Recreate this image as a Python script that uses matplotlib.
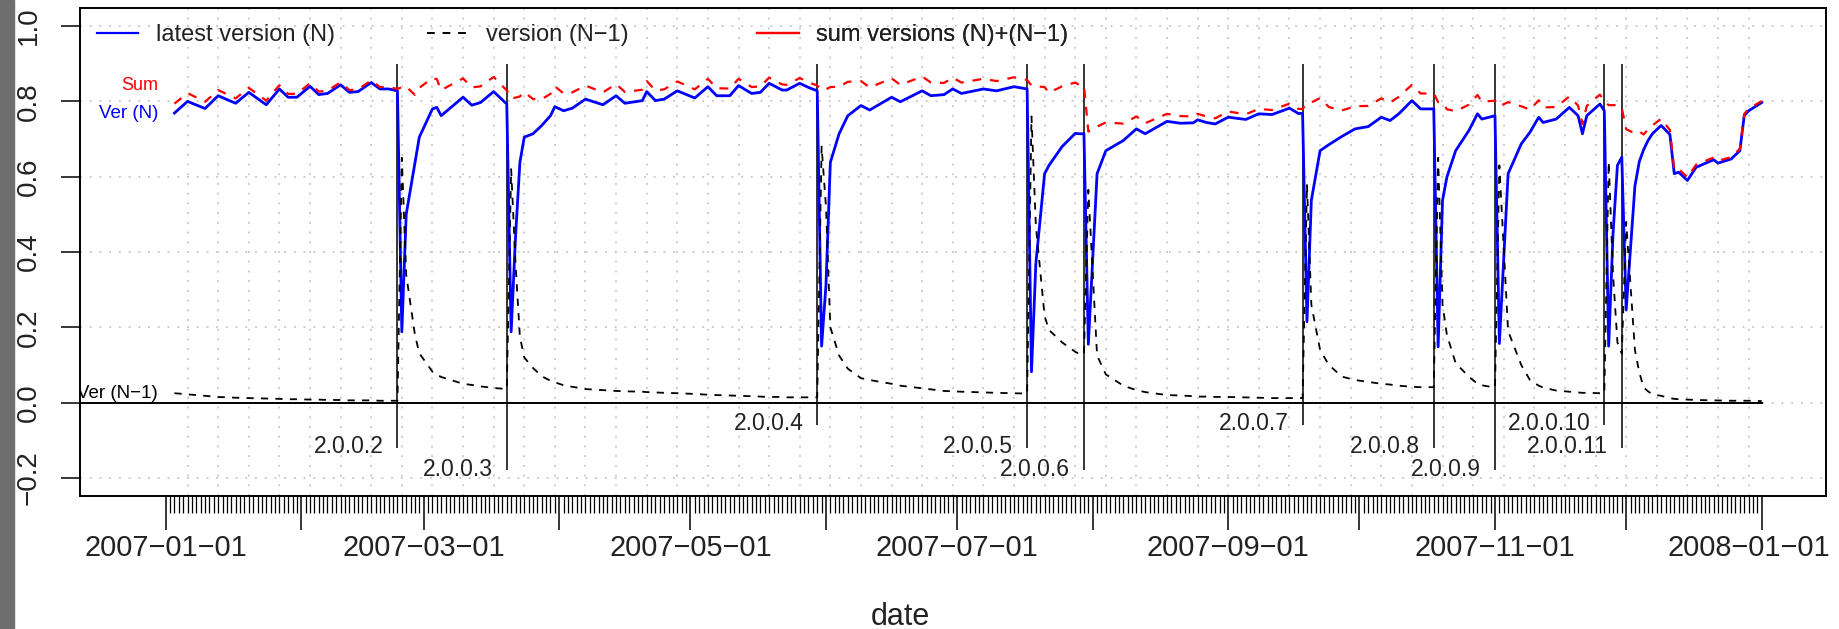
import numpy as np
import matplotlib
matplotlib.use("Agg")
import matplotlib.pyplot as plt
import matplotlib.dates as mdates
import matplotlib.transforms as mtransforms
from matplotlib.lines import Line2D
from matplotlib.patches import Rectangle
from matplotlib.ticker import FixedLocator, FixedFormatter

plt.rcParams['font.family'] = ['Liberation Sans', 'DejaVu Sans']

# ---------------- data (days since 2007-01-01) ----------------
days = [2, 5, 9, 12, 16, 19, 23, 26, 28, 30, 33, 35, 37, 40, 42, 44, 47, 49, 51, 53,
        54, 55, 56, 57, 58, 61, 62, 63, 68, 70, 72, 75, 78,
        79, 80, 81, 82, 84, 86, 88, 89, 91, 93, 96, 100, 103, 105, 109, 110, 112, 114,
        117, 121, 124, 126, 129, 131, 134, 136, 138, 141, 142, 145, 147, 149,
        150, 151, 152, 154, 156, 159, 161, 166, 168, 173, 175, 178, 180, 182, 187, 190, 194, 197,
        198, 199, 201, 202, 205, 208, 209, 210,
        211, 213, 215, 219, 222, 224, 229, 232, 235, 236, 238, 240, 243, 247, 250, 253, 257, 259, 260,
        261, 262, 264, 266, 269, 272, 275, 278, 280, 282, 285, 287, 290,
        291, 292, 293, 295, 298, 300, 301, 304,
        305, 307, 308, 310, 312, 314, 315, 318, 321, 323, 324, 325, 328, 329,
        330, 331, 332, 333,
        334, 336, 337, 338, 339, 340, 342, 344, 345, 346, 348, 350, 354, 355, 358, 360, 361, 362, 365]

ver_n = [.769, .800, .781, .815, .795, .824, .791, .833, .811, .811, .840, .818, .821, .844, .824, .826, .850, .833, .833, .828,
         .188, .500, .568, .637, .705, .780, .784, .762, .811, .790, .797, .826, .793,
         .188, .440, .638, .705, .714, .736, .762, .786, .775, .782, .806, .791, .815, .795, .802, .826, .802, .806,
         .828, .809, .839, .815, .815, .842, .821, .824, .848, .830, .830, .848, .837, .828,
         .150, .312, .638, .714, .762, .789, .777, .811, .799, .828, .815, .818, .833, .821, .833, .828, .839, .833,
         .082, .370, .608, .630, .680, .715, .714, .714,
         .155, .608, .669, .696, .727, .714, .747, .742, .743, .751, .744, .740, .758, .752, .767, .765, .782, .768, .768,
         .215, .537, .669, .685, .707, .727, .733, .758, .749, .767, .802, .780, .780,
         .148, .537, .599, .669, .722, .767, .753, .762,
         .157, .608, .634, .687, .718, .758, .744, .753, .784, .762, .714, .762, .793, .775,
         .150, .450, .630, .652,
         .246, .575, .640, .672, .696, .714, .736, .712, .608, .612, .590, .625, .645, .636, .647, .669, .762, .775, .797]

ver_n1 = [.025, .022, .018, .015, .013, .012, .011, .010, .009, .009, .008, .008, .007, .007, .006, .006, .006, .005, .005, .005,
          .650, .340, .260, .180, .131, .082, .075, .068, .050, .047, .043, .039, .036,
          .620, .370, .175, .120, .092, .070, .058, .054, .046, .042, .036, .033, .031, .030, .029, .028, .027, .026,
          .025, .023, .021, .020, .019, .018, .017, .016, .015, .015, .014, .014, .014, .014,
          .680, .520, .200, .125, .090, .065, .060, .050, .045, .038, .035, .031, .030, .029, .027, .026, .025, .024,
          .760, .470, .230, .193, .160, .135, .129, .128,
          .565, .125, .075, .045, .033, .028, .020, .019, .017, .016, .016, .015, .015, .014, .013, .012, .012, .012, .012,
          .580, .260, .140, .100, .069, .060, .055, .050, .048, .045, .042, .041, .041,
          .650, .260, .180, .105, .069, .050, .046, .040,
          .630, .190, .160, .100, .060, .045, .040, .032, .029, .027, .026, .026, .025, .025,
          .640, .340, .160, .130,
          .480, .140, .080, .040, .030, .022, .018, .012, .010, .009, .008, .007, .006, .006, .005, .005, .005, .005, .004]

ver_sum = [.794, .822, .799, .830, .808, .836, .802, .843, .820, .820, .848, .826, .828, .851, .830, .832, .856, .838, .838, .833,
           .838, .840, .828, .817, .836, .862, .859, .830, .861, .837, .840, .865, .829,
           .808, .810, .813, .825, .806, .806, .820, .840, .821, .824, .842, .824, .846, .825, .831, .854, .829, .832,
           .853, .832, .860, .835, .834, .860, .838, .840, .863, .845, .844, .862, .851, .842,
           .830, .832, .838, .839, .852, .854, .837, .861, .844, .866, .850, .849, .863, .850, .860, .854, .864, .857,
           .842, .840, .838, .823, .840, .850, .843, .842,
           .720, .733, .744, .741, .760, .742, .767, .761, .760, .767, .760, .755, .773, .766, .780, .777, .794, .780, .780,
           .795, .797, .809, .785, .776, .787, .788, .808, .797, .812, .844, .821, .821,
           .798, .797, .779, .774, .791, .817, .799, .802,
           .787, .798, .794, .787, .778, .803, .784, .785, .813, .789, .740, .788, .818, .800,
           .790, .790, .790, .782,
           .726, .715, .720, .712, .726, .736, .754, .724, .618, .621, .598, .632, .651, .642, .652, .674, .767, .780, .801]

release_dates = ['2007-02-23', '2007-03-20', '2007-05-30', '2007-07-17', '2007-07-30',
                 '2007-09-18', '2007-10-18', '2007-11-01', '2007-11-26', '2007-11-30']
release_labels = ['2.0.0.2', '2.0.0.3', '2.0.0.4', '2.0.0.5', '2.0.0.6',
                  '2.0.0.7', '2.0.0.8', '2.0.0.9', '2.0.0.10', '2.0.0.11']
release_depth = [-0.12, -0.18, -0.06, -0.12, -0.18, -0.06, -0.12, -0.18, -0.06, -0.12]

y_ticks = [-0.2, 0.0, 0.2, 0.4, 0.6, 0.8, 1.0]
y_tick_labels = ['\u22120.2', '0.0', '0.2', '0.4', '0.6', '0.8', '1.0']
month_ticks = ['2007-01-01', '2007-02-01', '2007-03-01', '2007-04-01', '2007-05-01', '2007-06-01',
               '2007-07-01', '2007-08-01', '2007-09-01', '2007-10-01', '2007-11-01', '2007-12-01', '2008-01-01']
month_labels = ['2007\u221201\u221201', '', '2007\u221203\u221201', '', '2007\u221205\u221201', '',
                '2007\u221207\u221201', '', '2007\u221209\u221201', '', '2007\u221211\u221201', '', '2008\u221201\u221201']
legend_labels = ['latest version (N)', 'version (N\u22121)', 'sum versions (N)+(N\u22121)']

# ---------------- figure ----------------
W, H = 1839, 629
fig = plt.figure(figsize=(W / 100, H / 100), dpi=100)
fig.patches.append(Rectangle((0, 0), 14 / W, 1, transform=fig.transFigure,
                             color='#6e6e6e', zorder=-10))
ax = fig.add_axes([80 / W, 1 - 496 / H, 1746 / W, 488 / H])

base = np.datetime64('2007-01-01')
x = mdates.date2num(base + np.array(days).astype('timedelta64[D]'))
rel_x = mdates.date2num(np.array(release_dates, dtype='datetime64[D]'))
month_x = mdates.date2num(np.array(month_ticks, dtype='datetime64[D]'))
start_x = mdates.date2num(np.datetime64('2007-01-01'))
end_x = mdates.date2num(np.datetime64('2008-01-01'))

ax.set_xlim(start_x - 19.6, end_x + 14.7)
ax.set_ylim(-0.248, 1.048)

grid_col = '#cdcdcd'
# horizontal grid
for yv in y_ticks:
    ax.axhline(yv, color=grid_col, lw=1.4, dashes=(1, 4), zorder=0)
# weekly vertical grid
week_x = np.arange(start_x + 5, end_x, 7)
ax.vlines(week_x, -0.248, 1.048, color=grid_col, lw=1.4, linestyles=[(0, (1, 4))], zorder=0)

# zero line
ax.plot([ax.get_xlim()[0], end_x], [0, 0], color='black', lw=1.4, zorder=2)

# release markers
ax.vlines(rel_x, release_depth, 0.9, color='black', lw=1.1, zorder=2)
for rx, lab, d in zip(rel_x, release_labels, release_depth):
    ax.annotate(lab, xy=(rx, d), xytext=(-10, 1), textcoords='offset points',
                ha='right', va='center', fontsize=16.5, color='#222222')

# series
ax.plot(x, ver_n, color='#0000ff', lw=2.0, zorder=3)
ax.plot(x, ver_n1, color='black', lw=1.3, dashes=(4, 4), zorder=4)
ax.plot(x, ver_sum, color='#ff0000', lw=1.6, dashes=(4, 4), zorder=5)

# series labels at start
lab_x = start_x - 1.75
ax.text(lab_x, 0.841, 'Sum', color='#ff0000', ha='right', va='center', fontsize=13)
ax.text(lab_x, 0.768, 'Ver (N)', color='#0000ff', ha='right', va='center', fontsize=13.5)
ax.text(lab_x, 0.025, 'Ver (N\u22121)', color='black', ha='right', va='center', fontsize=13.5, clip_on=True)

# legends
handles = [Line2D([], [], color='#0000ff', lw=1.6),
           Line2D([], [], color='black', lw=1.4, dashes=(4, 4)),
           Line2D([], [], color='#ff0000', lw=1.6)]
for h, lab, xf in zip(handles, legend_labels, [0.0095, 0.1985, 0.3880]):
    leg = ax.legend([h], [lab], loc='center left', bbox_to_anchor=(xf, 0.9447),
                    frameon=False, borderaxespad=0, borderpad=0, handlelength=1.75,
                    handletextpad=0.75, fontsize=17)
    for t in leg.get_texts():
        t.set_color('#222222')
    ax.add_artist(leg)

# axes styling
for s in ax.spines.values():
    s.set_linewidth(1.4)
    s.set_color('black')
ax.yaxis.set_major_locator(FixedLocator(y_ticks))
ax.yaxis.set_major_formatter(FixedFormatter(y_tick_labels))
ax.tick_params(axis='y', length=13.7, width=1.1, labelsize=20, pad=14, colors='black')
for t in ax.get_yticklabels():
    t.set_rotation(90)
    t.set_va('center')
    t.set_color('#222222')

ax.xaxis.set_major_locator(FixedLocator(month_x))
ax.xaxis.set_major_formatter(FixedFormatter(month_labels))
ax.xaxis.set_minor_locator(FixedLocator(np.arange(start_x, end_x + 0.5, 1.0)))
ax.tick_params(axis='x', which='major', length=24.5, width=1.1, labelsize=20.8, pad=3)
ax.tick_params(axis='x', which='minor', length=12.2, width=0.9)
for t in ax.get_xticklabels():
    t.set_color('#222222')

# keep the last date label inside the picture
last_tick = ax.xaxis.get_major_ticks()[-1]
last_tick.label1.set_transform(last_tick.label1.get_transform() +
                               mtransforms.ScaledTranslation(-9 / 72, 0, fig.dpi_scale_trans))

fig.text(900 / W, 1 - 617 / H, 'date', ha='center', va='center', fontsize=22, color='#222222')

fig.savefig('out.png', dpi=100, facecolor='white')
